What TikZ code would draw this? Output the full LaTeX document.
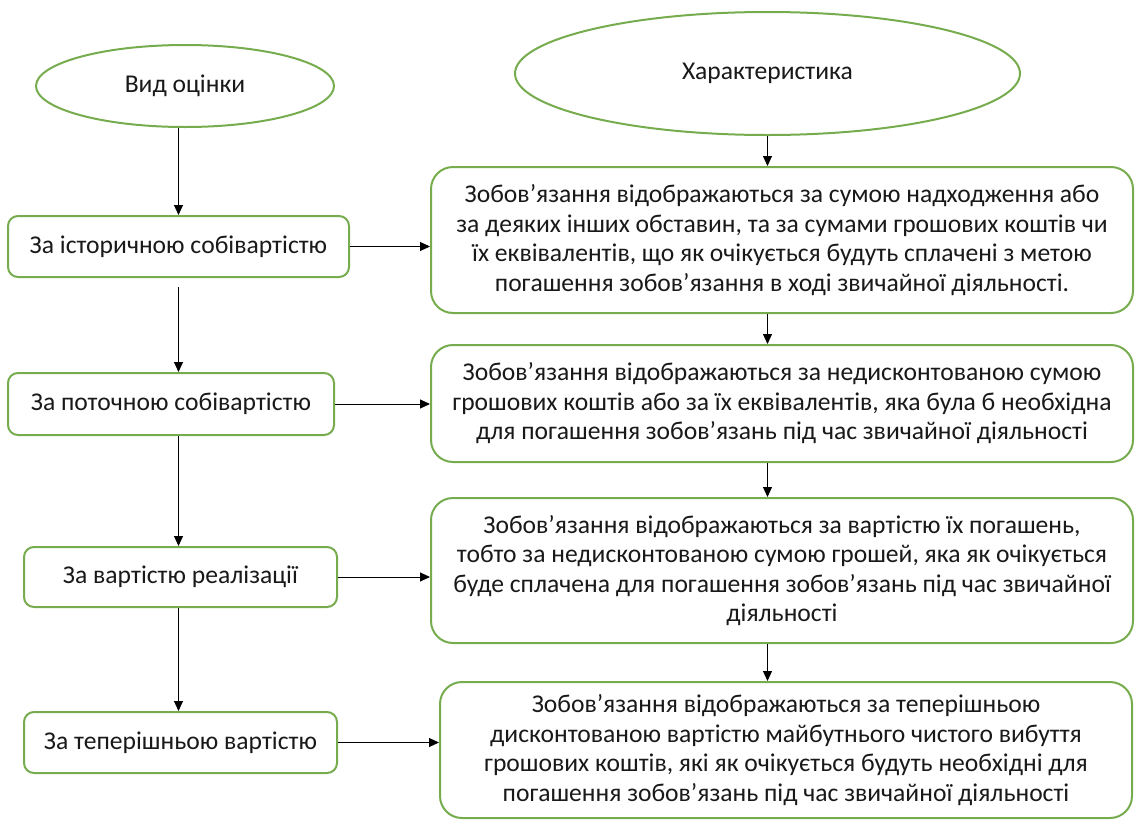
\documentclass[tikz,border=0pt]{standalone}
\usepackage{fontspec}
\setmainfont{Carlito}
\usetikzlibrary{shapes.geometric,arrows.meta}
\definecolor{boxgreen}{RGB}{118,172,78}
\definecolor{txt}{RGB}{25,25,25}
\tikzset{
  base/.style={draw=boxgreen, line width=2pt, fill=white, text=txt, inner sep=0pt, align=center,
     font=\fontsize{25.6}{29.5}\selectfont},
  oval/.style={base, ellipse},
  leftbox/.style={base, rectangle, rounded corners=10pt},
  rightbox/.style={base, rectangle, rounded corners=22pt},
  conn/.style={draw=black, line width=1pt, -{Triangle[length=10pt,width=9pt]}}
}
\begin{document}
\begin{tikzpicture}[x=1pt,y=-1pt]
\useasboundingbox (0,0) rectangle (1136,825);
\node[oval, minimum width=298pt, minimum height=82pt] (ell1) at (185,86) {\raisebox{3pt}{Вид оцінки}};
\node[oval, minimum width=505pt, minimum height=123pt] (ell2) at (767.5,73.5) {\raisebox{3pt}{Характеристика}};

\node[leftbox, minimum width=341pt, minimum height=61pt] (b1) at (178.5,246.5) {За історичною собівартістю};
\node[leftbox, minimum width=326pt, minimum height=62pt] (b2) at (171,404) {За поточною собівартістю};
\node[leftbox, minimum width=313pt, minimum height=60pt] (b3) at (180.5,577) {За вартістю реалізації};
\node[leftbox, minimum width=313pt, minimum height=61pt] (b4) at (180.5,742.5) {За теперішньою вартістю};

\node[rightbox, minimum width=702pt, minimum height=146pt] (r1) at (782,240) {Зобов’язання відображаються за сумою надходження або\\за деяких інших обставин, та за сумами грошових коштів чи\\їх еквівалентів, що як очікується будуть сплачені з метою\\погашення зобов’язання в ході звичайної діяльності.};
\node[rightbox, minimum width=702pt, minimum height=117pt] (r2) at (782,403.5) {Зобов’язання відображаються за недисконтованою сумою\\грошових коштів або за їх еквівалентів, яка була б необхідна\\для погашення зобов’язань під час звичайної діяльності};
\node[rightbox, minimum width=702pt, minimum height=145pt] (r3) at (782,570.5) {Зобов’язання відображаються за вартістю їх погашень,\\тобто за недисконтованою сумою грошей, яка як очікується\\буде сплачена для погашення зобов’язань під час звичайної\\діяльності};
\node[rightbox, minimum width=692pt, minimum height=136pt] (r4) at (786,750) {Зобов’язання відображаються за теперішньою\\дисконтованою вартістю майбутнього чистого вибуття\\грошових коштів, які як очікується будуть необхідні для\\погашення зобов’язань під час звичайної діяльності};

% left column
\draw[conn] (ell1.south -| b1.north) -- (b1.north);
\draw[conn, shorten <=9pt] (b1.south) -- (b2.north -| b1.south);
\draw[conn] (b2.south -| b1.south) -- (b3.north -| b1.south);
\draw[conn] (b3.south -| b1.south) -- (b4.north -| b1.south);

% right column
\draw[conn] (ell2.south) -- (r1.north -| ell2.south);
\draw[conn] (r1.south -| ell2.south) -- (r2.north -| ell2.south);
\draw[conn] (r2.south -| ell2.south) -- (r3.north -| ell2.south);
\draw[conn] (r3.south -| ell2.south) -- (r4.north -| ell2.south);

% horizontal
\draw[conn] (b1.east) -- (r1.west |- b1.east);
\draw[conn] (b2.east) -- (r2.west |- b2.east);
\draw[conn] (b3.east) -- (r3.west |- b3.east);
\draw[conn] (b4.east) -- (r4.west |- b4.east);
\end{tikzpicture}
\end{document}
